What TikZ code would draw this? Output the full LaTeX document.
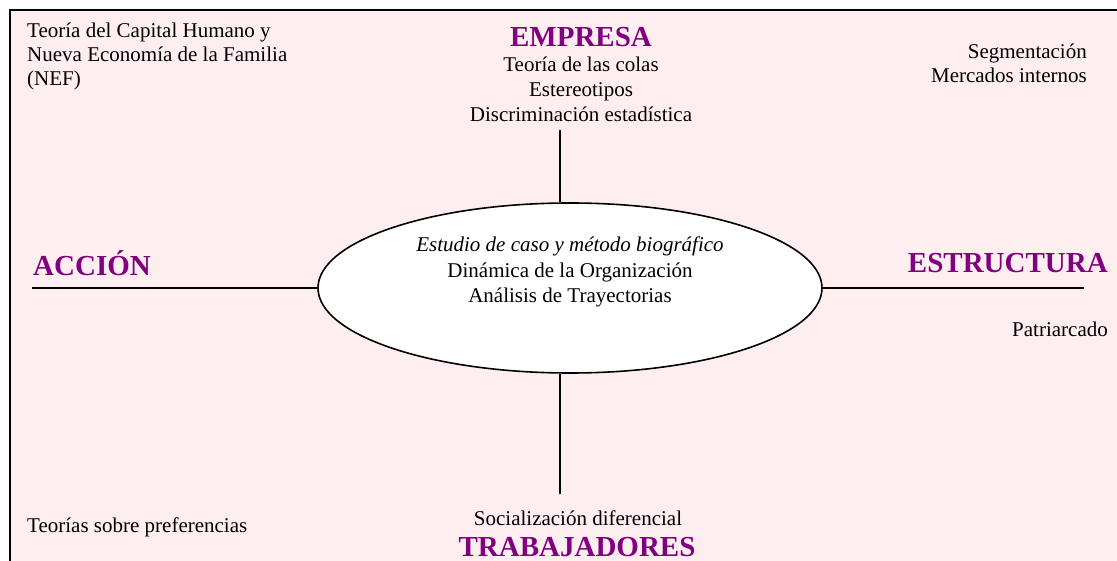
\documentclass[tikz,border=0pt]{standalone}
\usepackage{fontspec}
\setmainfont{Liberation Serif}
\usetikzlibrary{shapes.geometric}
\definecolor{bgpink}{RGB}{255,238,240}
\definecolor{hdpurple}{RGB}{128,0,128}
\begin{document}
\begin{tikzpicture}[x=1pt,y=-1pt,
  txt/.style={font=\fontsize{21}{24}\selectfont, inner sep=0pt, anchor=base},
  hd/.style={font=\fontsize{29}{33}\selectfont\bfseries, text=hdpurple, inner sep=0pt, anchor=base},
  axis/.style={line width=1.6pt}]
\useasboundingbox (0,0) rectangle (1117,561);
\clip (0,0) rectangle (1117,561);
\draw[line width=1.6pt, fill=bgpink] (10,10) rectangle (1140,590);
% centre ellipse
\node[ellipse, draw, line width=1.6pt, fill=white, minimum width=504pt, minimum height=170pt, inner sep=0pt] (ell) at (570,288) {};
\node[txt] (e1) at (570,252) {\itshape Estudio de caso y método biográfico};
\node[txt] (e2) at (570,278) {Dinámica de la Organización};
\node[txt] (e3) at (570,303) {Análisis de Trayectorias};
% axes
\coordinate (lend) at (32,288);
\coordinate (rend) at (1084,288);
\coordinate (tend) at (560,130);
\coordinate (bend) at (560,494);
\draw[axis] (lend) -- (ell.west);
\draw[axis] (ell.east) -- (rend);
\draw[axis] (tend) -- (tend |- ell.north);
\draw[axis] (bend) -- (bend |- ell.south);
% headers
\node[hd] (empresa) at (581,47) {EMPRESA};
\node[hd, anchor=base west] (accion) at (33,276) {ACCIÓN};
\node[hd, anchor=base east] (estructura) at (1108,273) {ESTRUCTURA};
\node[hd] (trabajadores) at (577,556) {TRABAJADORES};
% texts
\node[txt, anchor=base west] (tl1) at (27,38) {Teoría del Capital Humano y};
\node[txt, anchor=base west] (tl2) at (27,62) {Nueva Economía de la Familia};
\node[txt, anchor=base west] (tl3) at (27,86) {(NEF)};
\node[txt] (em1) at (581,72) {Teoría de las colas};
\node[txt] (em2) at (581,97) {Estereotipos};
\node[txt] (em3) at (581,122) {Discriminación estadística};
\node[txt, anchor=base east] (tr1) at (1087,59) {Segmentación};
\node[txt, anchor=base east] (tr2) at (1087,83) {Mercados internos};
\node[txt, anchor=base east] (pat) at (1108,337) {Patriarcado};
\node[txt, anchor=base west] (pref) at (27,532) {Teorías sobre preferencias};
\node[txt] (soc) at (578,525) {Socialización diferencial};
\end{tikzpicture}
\end{document}
